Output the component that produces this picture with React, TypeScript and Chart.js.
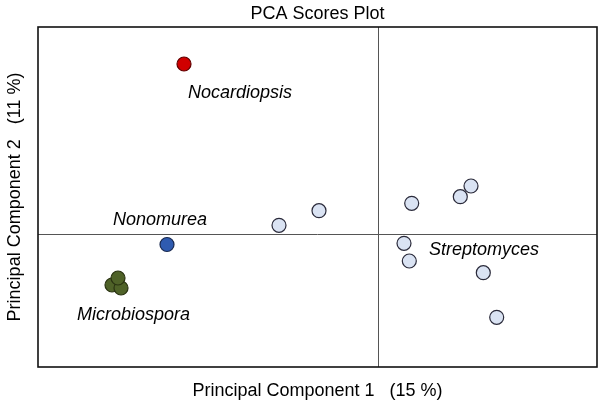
import React, { useEffect, useRef } from "react";
import { Chart, registerables } from "chart.js";

Chart.register(...registerables);

const titleText = "PCA Scores Plot";
const xTitle = "Principal Component 1   (15 %)";
const yTitle = "Principal Component 2   (11 %)";

const xRange = [-34.0, 21.9];
const yRange = [-13.3, 20.7];

const nocardiopsisPts = [{ x: -19.4, y: 17.0 }];
const nonomureaPts = [{ x: -21.1, y: -1.05 }];
const microbiosporaPts = [
  { x: -26.6, y: -5.1 },
  { x: -25.7, y: -5.4 },
  { x: -26.0, y: -4.4 },
];
const streptomycesPts = [
  { x: -9.9, y: 0.87 },
  { x: -5.9, y: 2.33 },
  { x: 3.37, y: 3.07 },
  { x: 9.3, y: 4.8 },
  { x: 8.23, y: 3.73 },
  { x: 2.6, y: -0.93 },
  { x: 3.13, y: -2.7 },
  { x: 10.53, y: -3.87 },
  { x: 11.87, y: -8.33 },
];

const groupLabels = ["Nocardiopsis", "Nonomurea", "Microbiospora", "Streptomyces"];
const labelX = [-19.0, -26.5, -30.1, 5.1];
const labelY = [14.1, 1.4, -8.1, -1.6];

const FONT = "'Liberation Sans', Arial, sans-serif";

const framePlugin = {
  id: "frame",
  beforeDatasetsDraw(chart: any) {
    const { ctx, chartArea, scales } = chart;
    const x0 = scales.x.getPixelForValue(0);
    const y0 = scales.y.getPixelForValue(0);
    ctx.save();
    ctx.strokeStyle = "#555";
    ctx.lineWidth = 1;
    ctx.beginPath();
    ctx.moveTo(Math.round(x0) + 0.5, chartArea.top);
    ctx.lineTo(Math.round(x0) + 0.5, chartArea.bottom);
    ctx.moveTo(chartArea.left, Math.round(y0) + 0.5);
    ctx.lineTo(chartArea.right, Math.round(y0) + 0.5);
    ctx.stroke();
    ctx.strokeStyle = "#111";
    ctx.lineWidth = 1.6;
    ctx.strokeRect(chartArea.left, chartArea.top, chartArea.right - chartArea.left, chartArea.bottom - chartArea.top);
    ctx.restore();
  },
  afterDatasetsDraw(chart: any) {
    const { ctx, scales } = chart;
    ctx.save();
    ctx.fillStyle = "#000";
    ctx.font = "italic 18px " + FONT;
    ctx.textAlign = "left";
    ctx.textBaseline = "middle";
    groupLabels.forEach((t, i) => {
      ctx.fillText(t, scales.x.getPixelForValue(labelX[i]), scales.y.getPixelForValue(labelY[i]));
    });
    ctx.restore();
  },
};

export default function App() {
  const ref = useRef<HTMLCanvasElement>(null);
  useEffect(() => {
    if (!ref.current) return;
    const mk = (label: string, data: any[], bg: string, border: string) => ({
      label,
      data,
      backgroundColor: bg,
      borderColor: border,
      borderWidth: 1.2,
      pointRadius: 7,
      pointHoverRadius: 7,
    });
    const chart = new Chart(ref.current, {
      type: "scatter",
      data: {
        datasets: [
          mk("Streptomyces", streptomycesPts, "#dae3f3", "#2a2a3a"),
          mk("Microbiospora", microbiosporaPts, "#4f6228", "#2a3312"),
          mk("Nonomurea", nonomureaPts, "#2f5bb0", "#1a2a50"),
          mk("Nocardiopsis", nocardiopsisPts, "#d00000", "#600000"),
        ],
      },
      options: {
        responsive: false,
        animation: false,
        layout: { autoPadding: false, padding: { left: 0, right: 3, top: 0, bottom: 0 } },
        plugins: {
          legend: { display: false },
          tooltip: { enabled: false },
          title: {
            display: true,
            fullSize: false,
            text: titleText,
            color: "#000",
            font: { family: FONT, size: 18, weight: "normal" },
            padding: { top: 3.2, bottom: 2.2 },
          },
        },
        scales: {
          x: {
            type: "linear",
            min: xRange[0],
            max: xRange[1],
            ticks: { display: false },
            grid: { display: false, drawTicks: false },
            border: { display: false },
            title: {
              display: true,
              text: xTitle,
              color: "#000",
              font: { family: FONT, size: 18 },
              padding: { top: 13.2, bottom: 3.2 },
            },
          },
          y: {
            type: "linear",
            min: yRange[0],
            max: yRange[1],
            ticks: { display: false },
            grid: { display: false, drawTicks: false },
            border: { display: false },
            title: {
              display: true,
              text: yTitle,
              color: "#000",
              font: { family: FONT, size: 18 },
              padding: { top: 4.2, bottom: 12.2 },
            },
          },
        },
      },
      plugins: [framePlugin],
    });
    return () => chart.destroy();
  }, []);
  return (
    <div style={{ position: "fixed", left: 0, top: 0, width: 600, height: 405, background: "#fff" }}>
      <canvas ref={ref} width={600} height={405} />
    </div>
  );
}
